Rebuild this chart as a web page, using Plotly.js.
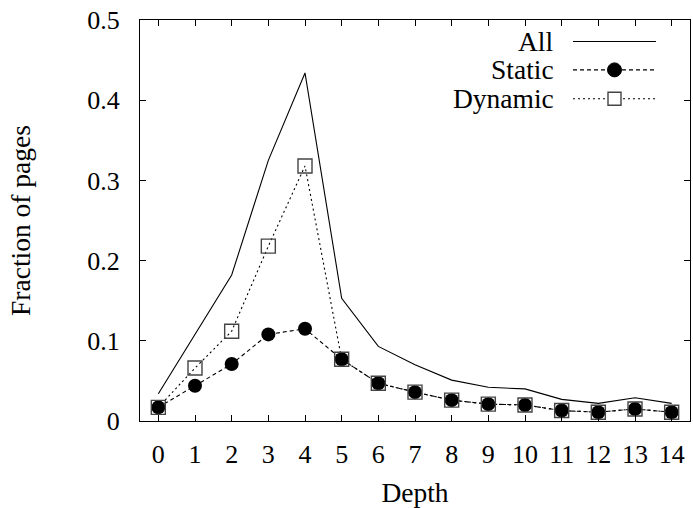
<!DOCTYPE html>
<html>
<head>
<meta charset="utf-8">
<script src="https://cdn.plot.ly/plotly-3.0.1.min.js"></script>
<style>html,body{margin:0;padding:0;background:#fff;}#chart{width:693px;height:508px;}</style>
</head>
<body>
<div id="chart"></div>
<script>
var depth = [0,1,2,3,4,5,6,7,8,9,10,11,12,13,14];
var tickLabels = ["0","1","2","3","4","5","6","7","8","9","10","11","12","13","14"];
var yTickVals = [0,0.1,0.2,0.3,0.4,0.5];
var yTickLabels = ["0","0.1","0.2","0.3","0.4","0.5"];
var allPages = [0.034,0.108,0.182,0.325,0.434,0.153,0.093,0.070,0.051,0.042,0.040,0.027,0.022,0.029,0.022];
var staticPages = [0.017,0.044,0.071,0.108,0.115,0.077,0.047,0.036,0.026,0.021,0.020,0.013,0.011,0.015,0.011];
var dynamicPages = [0.017,0.066,0.112,0.218,0.318,0.077,0.047,0.036,0.026,0.021,0.020,0.013,0.011,0.015,0.011];
var seriesNames = ["All","Static","Dynamic"];

var FONT = "Liberation Serif";
var FS_TICK = 26;
var FS_TEXT = 27.5;

var traces = [
  {x: depth, y: allPages, name: seriesNames[0], mode: "lines", line: {color: "#000", width: 1.1}},
  {x: depth, y: staticPages, name: seriesNames[1], mode: "lines+markers",
   line: {color: "#000", width: 1.1, dash: "4px,3px"},
   marker: {symbol: "circle", size: 14, color: "#000"}},
  {x: depth, y: dynamicPages, name: seriesNames[2], mode: "lines+markers",
   line: {color: "#000", width: 1.1, dash: "2px,3px"},
   marker: {symbol: "square-open", size: 14, color: "#444", line: {width: 1.4, color: "#444"}}}
];

var L = 140, R = 690, T = 19.5, B = 421.5;
function px(x){return (x - L)/(R - L);}
function py(y){return (B - y)/(B - T);}
var legY = [41, 69.5, 98.5];
var annotations = [], shapes = [];
var dashes = ["solid","4px,3px","2px,3px"];
for (var i = 0; i < 3; i++) {
  annotations.push({xref:"paper", yref:"paper", x: px(556), y: py(legY[i]), xanchor:"right", yanchor:"middle",
    text: seriesNames[i], showarrow:false, font:{family:FONT, size:FS_TEXT, color:"#000"}});
  shapes.push({type:"line", xref:"paper", yref:"paper", x0: px(573), x1: px(656), y0: py(legY[i]), y1: py(legY[i]),
    line:{color:"#000", width:1.1, dash: dashes[i]}});
}
shapes.push({type:"circle", xref:"paper", yref:"paper", xsizemode:"pixel", ysizemode:"pixel",
  xanchor: px(614.5), yanchor: py(legY[1]), x0:-7, x1:7, y0:-7, y1:7, fillcolor:"#000", line:{color:"#000", width:1}});
shapes.push({type:"rect", xref:"paper", yref:"paper", xsizemode:"pixel", ysizemode:"pixel",
  xanchor: px(614.5), yanchor: py(legY[2]), x0:-6.5, x1:6.5, y0:-6.5, y1:6.5, fillcolor:"#fff", line:{color:"#444", width:1.4}});

var layout = {
  width: 693, height: 508,
  margin: {l: L, r: 693 - R, t: T, b: 508 - B, pad: 0},
  paper_bgcolor: "#fff", plot_bgcolor: "#fff",
  showlegend: false,
  font: {family: FONT, size: FS_TICK, color: "#000"},
  xaxis: {
    range: [-0.5, 14.5], tickmode: "array", tickvals: depth, ticktext: tickLabels,
    ticks: "inside", ticklen: 6, tickwidth: 1, tickcolor: "#000",
    showline: true, linecolor: "#000", linewidth: 1, mirror: "ticks",
    showgrid: false, zeroline: false, ticklabelstandoff: 10,
    tickfont: {family: FONT, size: FS_TICK},
    title: {text: "Depth", font: {family: FONT, size: FS_TEXT}, standoff: 14}
  },
  yaxis: {
    range: [0, 0.5], tickmode: "array", tickvals: yTickVals, ticktext: yTickLabels,
    ticks: "inside", ticklen: 6, tickwidth: 1, tickcolor: "#000",
    showline: true, linecolor: "#000", linewidth: 1, mirror: "ticks",
    showgrid: false, zeroline: false, ticklabelstandoff: 14,
    tickfont: {family: FONT, size: FS_TICK},
    title: {text: "Fraction of pages", font: {family: FONT, size: FS_TEXT}, standoff: 48}
  },
  annotations: annotations,
  shapes: shapes
};

Plotly.newPlot("chart", traces, layout, {displayModeBar: false, staticPlot: true});
</script>
</body>
</html>
